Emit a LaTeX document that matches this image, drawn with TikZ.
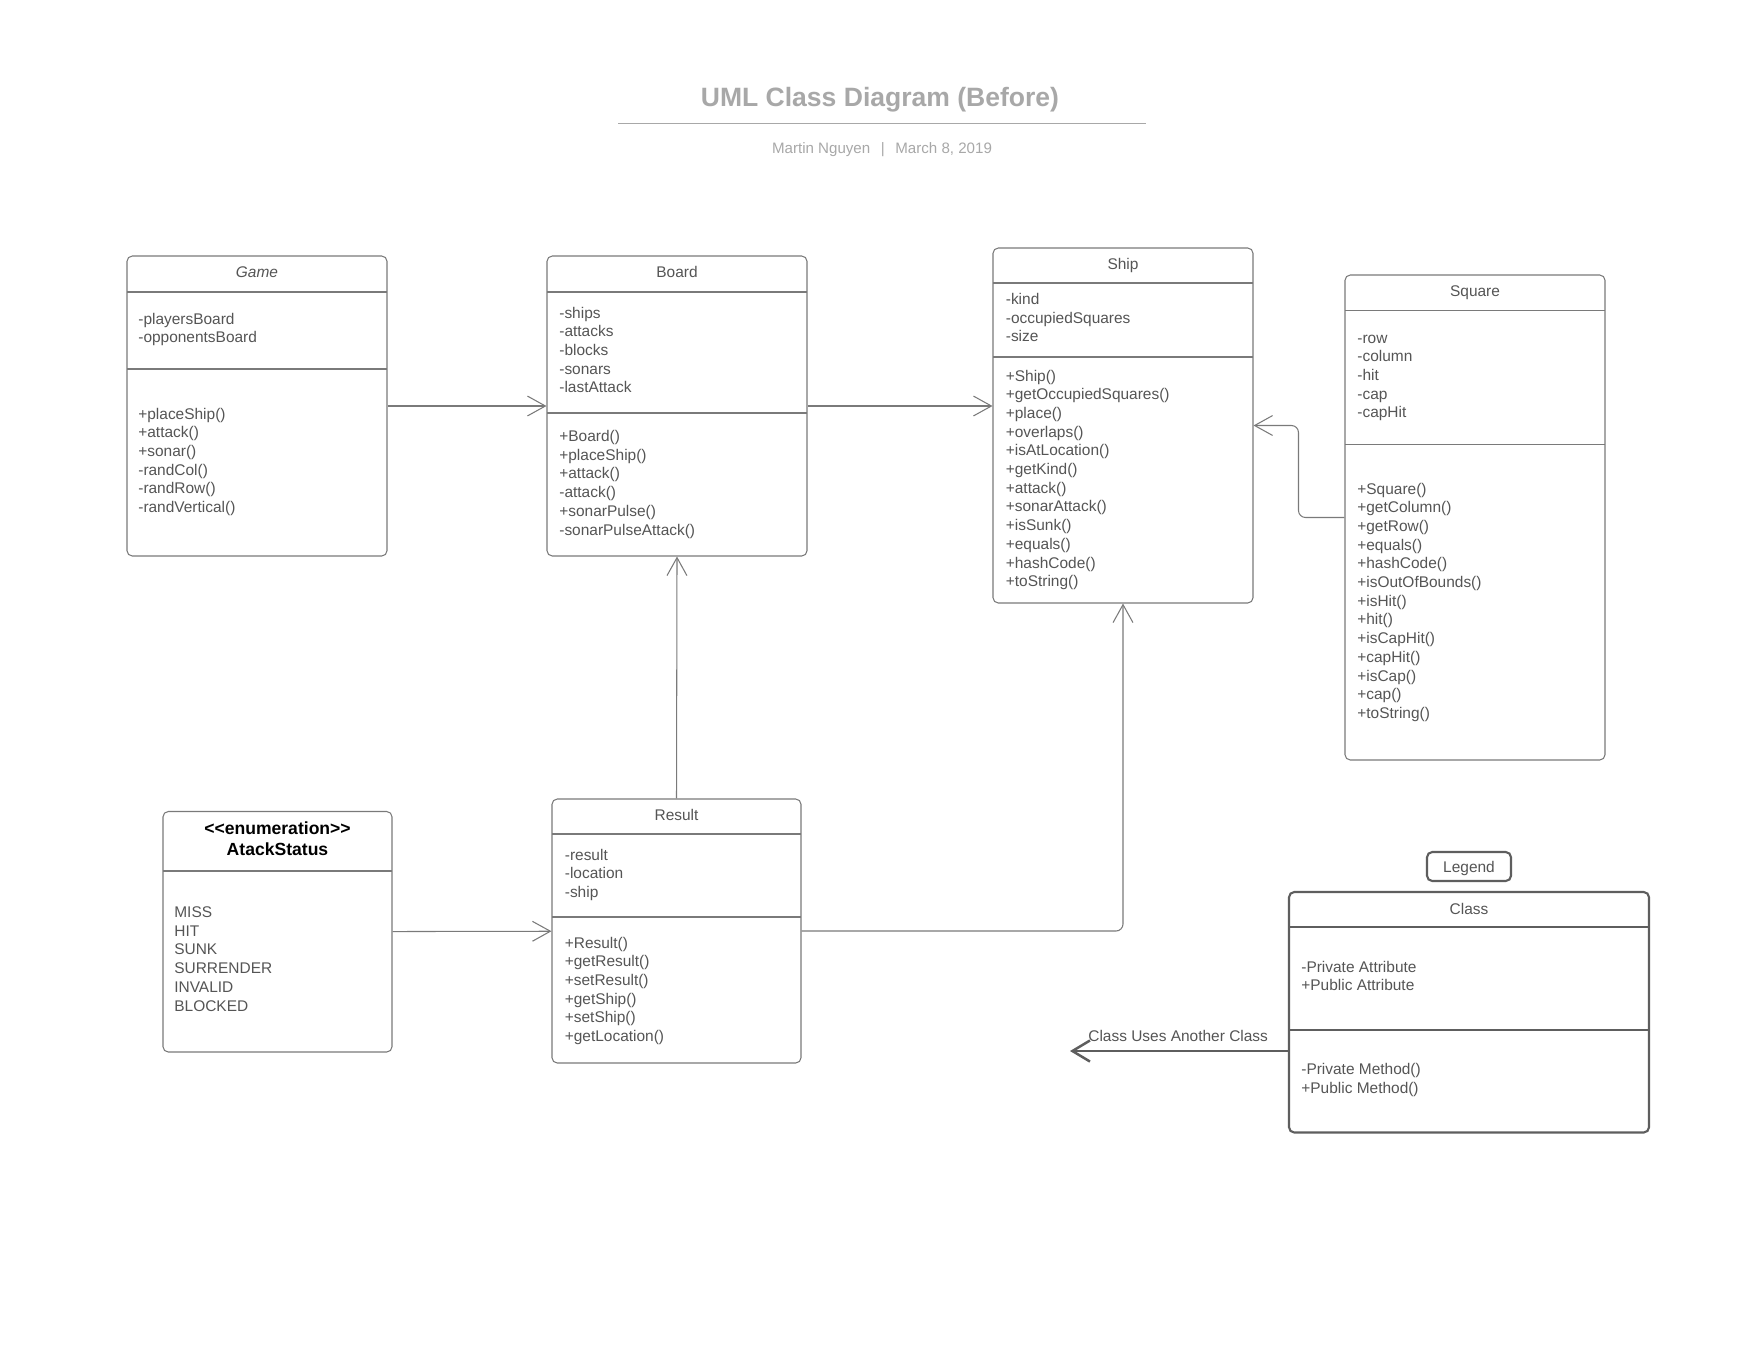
\documentclass[tikz,border=0pt]{standalone}
\usepackage{fontspec}
\setmainfont{Liberation Sans}
\usetikzlibrary{arrows.meta,fit}
\definecolor{titlegray}{HTML}{A8A8A8}
\definecolor{textgray}{HTML}{555555}
\definecolor{boxgray}{HTML}{7A7A7A}
\definecolor{keygray}{HTML}{5E5E5E}
\tikzset{
  classbox/.style={draw=boxgray, line width=0.6pt, rounded corners=3pt, inner sep=0pt},
  keybox/.style={classbox, draw=keygray, line width=1.2pt},
  divider/.style={draw=boxgray, line width=0.6pt},
  classname/.style={anchor=base, inner sep=0pt, text=textgray, font=\fontsize{8.8}{10.6}\selectfont},
  member/.style={anchor=base west, inner sep=0pt, text=textgray, font=\fontsize{8.8}{10.6}\selectfont},
  uses/.style={draw=boxgray, line width=0.6pt, -{Straight Barb[length=10.2pt,width=11.3pt]}}
}

\begin{document}
\begin{tikzpicture}[x=0.02cm, y=-0.02cm]
  \fill[white] (0,0) rectangle (1760,1360);
  \useasboundingbox (0,0) rectangle (1760,1360);

  \node[anchor=base, inner sep=0pt, text=titlegray, font=\fontsize{15.1}{18}\selectfont\bfseries] (title) at (880,106) {UML Class Diagram (Before)};
  \draw[titlegray, line width=1pt] (618,123.5) -- (1146,123.5);
  \node[anchor=base, inner sep=0pt, text=titlegray, font=\fontsize{8.6}{10}\selectfont] (author) at (882,153) {Martin Nguyen\hspace{0.7em}|\hspace{0.7em}March 8, 2019};

  \begin{scope}
    \node[classbox, fit={(127,256) (387,556)}] (game) {};
    \draw[divider] (127,292) -- (387,292);
    \draw[divider] (127,369) -- (387,369);
    \node[classname] (game-name) at (257,277) {\itshape Game};
    \foreach \m [count=\i] in {-playersBoard,-opponentsBoard}
      \node[member] (game-a\i) at (138,{324+18.7*(\i-1)}) {\m};
    \foreach \m [count=\i] in {+placeShip(),+attack(),+sonar(),-randCol(),-randRow(),-randVertical()}
      \node[member] (game-m\i) at (138,{419+18.7*(\i-1)}) {\m};
  \end{scope}

  \begin{scope}
    \node[classbox, fit={(547,256) (807,556)}] (board) {};
    \draw[divider] (547,292) -- (807,292);
    \draw[divider] (547,413) -- (807,413);
    \node[classname] (board-name) at (677,277) {Board};
    \foreach \m [count=\i] in {-ships,-attacks,-blocks,-sonars,-lastAttack}
      \node[member] (board-a\i) at (559,{318+18.7*(\i-1)}) {\m};
    \foreach \m [count=\i] in {+Board(),+placeShip(),+attack(),-attack(),+sonarPulse(),-sonarPulseAttack()}
      \node[member] (board-m\i) at (559,{441.5+18.7*(\i-1)}) {\m};
  \end{scope}

  \begin{scope}
    \node[classbox, fit={(993,248) (1253,603)}] (ship) {};
    \draw[divider] (993,283) -- (1253,283);
    \draw[divider] (993,357) -- (1253,357);
    \node[classname] (ship-name) at (1123,269) {Ship};
    \foreach \m [count=\i] in {-kind,-occupiedSquares,-size}
      \node[member] (ship-a\i) at (1005.5,{304.5+18.7*(\i-1)}) {\m};
    \foreach \m [count=\i] in {+Ship(),+getOccupiedSquares(),+place(),+overlaps(),+isAtLocation(),+getKind(),+attack(),+sonarAttack(),+isSunk(),+equals(),+hashCode(),+toString()}
      \node[member] (ship-m\i) at (1005.5,{381+18.7*(\i-1)}) {\m};
  \end{scope}

  \begin{scope}
    \node[classbox, fit={(1345,275) (1605,760)}] (square) {};
    \draw[divider] (1345,310.5) -- (1605,310.5);
    \draw[divider] (1345,444.5) -- (1605,444.5);
    \node[classname] (square-name) at (1475,296) {Square};
    \foreach \m [count=\i] in {-row,-column,-hit,-cap,-capHit}
      \node[member] (square-a\i) at (1357,{343+18.7*(\i-1)}) {\m};
    \foreach \m [count=\i] in {+Square(),+getColumn(),+getRow(),+equals(),+hashCode(),+isOutOfBounds(),+isHit(),+hit(),+isCapHit(),+capHit(),+isCap(),+cap(),+toString()}
      \node[member] (square-m\i) at (1357,{494+18.7*(\i-1)}) {\m};
  \end{scope}

  \begin{scope}
    \node[classbox, fit={(163,811.5) (392,1052)}] (status) {};
    \draw[divider] (163,871) -- (392,871);
    \node[classname, text=black, font=\fontsize{10}{12.2}\selectfont\bfseries] (status-kind) at (277.5,834) {<\kern0pt<enumeration>\kern0pt>};
    \node[classname, text=black, font=\fontsize{10}{12.2}\selectfont\bfseries] (status-name) at (277.5,855.5) {AtackStatus};
    \foreach \m [count=\i] in {MISS,HIT,SUNK,SURRENDER,INVALID,BLOCKED}
      \node[member] (status-v\i) at (174,{917.5+18.7*(\i-1)}) {\m};
  \end{scope}

  \begin{scope}
    \node[classbox, fit={(552,799) (801,1063)}] (result) {};
    \draw[divider] (552,834) -- (801,834);
    \draw[divider] (552,917) -- (801,917);
    \node[classname] (result-name) at (676.5,820.5) {Result};
    \foreach \m [count=\i] in {-result,-location,-ship}
      \node[member] (result-a\i) at (564.5,{860+18.7*(\i-1)}) {\m};
    \foreach \m [count=\i] in {+Result(),+getResult(),+setResult(),+getShip(),+setShip(),+getLocation()}
      \node[member] (result-m\i) at (564.5,{948+18.7*(\i-1)}) {\m};
  \end{scope}

  \draw[uses] (game) -- (board);
  \draw[uses] (board.east) -- (board.east -| ship.west);
  \draw[uses, rounded corners=4pt] (square.west) -- ++(-46,0) |- (ship.east);
  \draw[uses] (result.north) -- (board.south);
  \draw[uses, rounded corners=4pt] (result.east) -| (ship.south);
  \draw[uses] (status) -- (result);

  \begin{scope}
    \node[keybox, fit={(1427,852) (1511,881)}] (legend) {};
    \node[classname] (legend-name) at (1469,872) {Legend};
    \node[keybox, fit={(1289,892) (1649,1132.5)}] (classkey) {};
    \draw[divider, draw=keygray, line width=1.2pt] (1289,927) -- (1649,927);
    \draw[divider, draw=keygray, line width=1.2pt] (1289,1030) -- (1649,1030);
    \node[classname] (classkey-name) at (1469,914) {Class};
    \foreach \m [count=\i] in {-Private Attribute,+Public Attribute}
      \node[member] (classkey-a\i) at (1301,{972+18.7*(\i-1)}) {\m};
    \foreach \m [count=\i] in {-Private Method(),+Public Method()}
      \node[member] (classkey-m\i) at (1301,{1074.5+18.7*(\i-1)}) {\m};
    \coordinate (usestip) at (1070,1051);
    \draw[uses, draw=keygray, line width=1.4pt, -{Straight Barb[length=10pt,width=12pt]}] (classkey.west |- usestip) -- (usestip);
    \node[member] (uses-label) at (1088,1041) {Class Uses Another Class};
  \end{scope}
\end{tikzpicture}
\end{document}
